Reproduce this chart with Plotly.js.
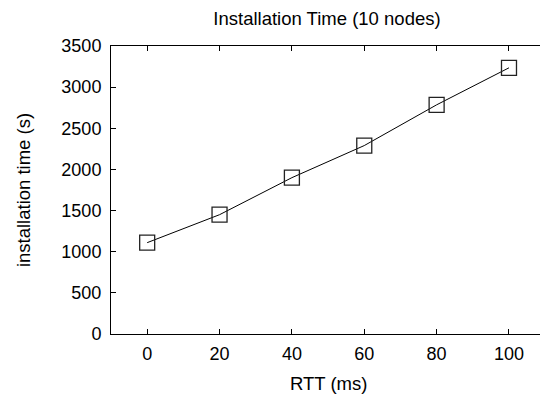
<!DOCTYPE html>
<html>
<head>
<meta charset="utf-8">
<script src="https://cdn.plot.ly/plotly-3.0.1.min.js"></script>
<style>html,body{margin:0;padding:0;background:#fff;overflow:hidden;width:540px;height:394px;}</style>
</head>
<body>
<div style="width:540px;height:394px;overflow:hidden;">
<div id="chart" style="width:560px;height:394px;"></div>
</div>
<script>
const rtt = [0, 20, 40, 60, 80, 100];
const installTime = [1110, 1450, 1900, 2290, 2785, 3235];
const xTicks = [0, 20, 40, 60, 80, 100];
const yTicks = [0, 500, 1000, 1500, 2000, 2500, 3000, 3500];

const font = {family: '"Liberation Sans", Arial, sans-serif', color: '#000'};

Plotly.newPlot('chart', [{
  x: rtt, y: installTime,
  type: 'scatter', mode: 'lines+markers',
  line: {color: '#000', width: 1},
  marker: {symbol: 'square-open', size: 15, color: '#222', line: {width: 1.3}},
  cliponaxis: false,
  showlegend: false
}], {
  width: 560, height: 394,
  margin: {l: 111, r: 0, t: 46, b: 60},
  paper_bgcolor: '#fff', plot_bgcolor: '#fff',
  font: Object.assign({size: 18}, font),
  title: {text: 'Installation Time (10 nodes)', font: Object.assign({size: 18.5}, font),
          xref: 'container', yref: 'container', x: 327 / 560, y: 0.954, xanchor: 'center', yanchor: 'middle'},
  xaxis: {
    range: [-10, 114.1], tickvals: xTicks, ticktext: xTicks.map(String),
    ticks: 'inside', ticklen: 5, tickcolor: '#000', showline: true, linecolor: '#000', linewidth: 1,
    mirror: 'ticks', showgrid: false, zeroline: false,
    tickfont: Object.assign({size: 18}, font), ticklabelstandoff: 3
  },
  yaxis: {
    range: [0, 3500], tickvals: yTicks, ticktext: yTicks.map(String),
    ticks: 'inside', ticklen: 5, tickcolor: '#000', showline: true, linecolor: '#000', linewidth: 1,
    mirror: false, showgrid: false, zeroline: false,
    tickfont: Object.assign({size: 18}, font), ticklabelstandoff: 5,
    title: {text: 'installation time (s)', font: Object.assign({size: 18.5}, font), standoff: 25}
  },
  annotations: [{
    text: 'RTT (ms)', showarrow: false,
    xref: 'paper', yref: 'paper',
    x: (328.5 - 111) / 449, y: -(383 - 334) / 288, xanchor: 'center', yanchor: 'middle',
    font: Object.assign({size: 18.5}, font)
  }]
}, {staticPlot: true, displayModeBar: false});
</script>
</body>
</html>
